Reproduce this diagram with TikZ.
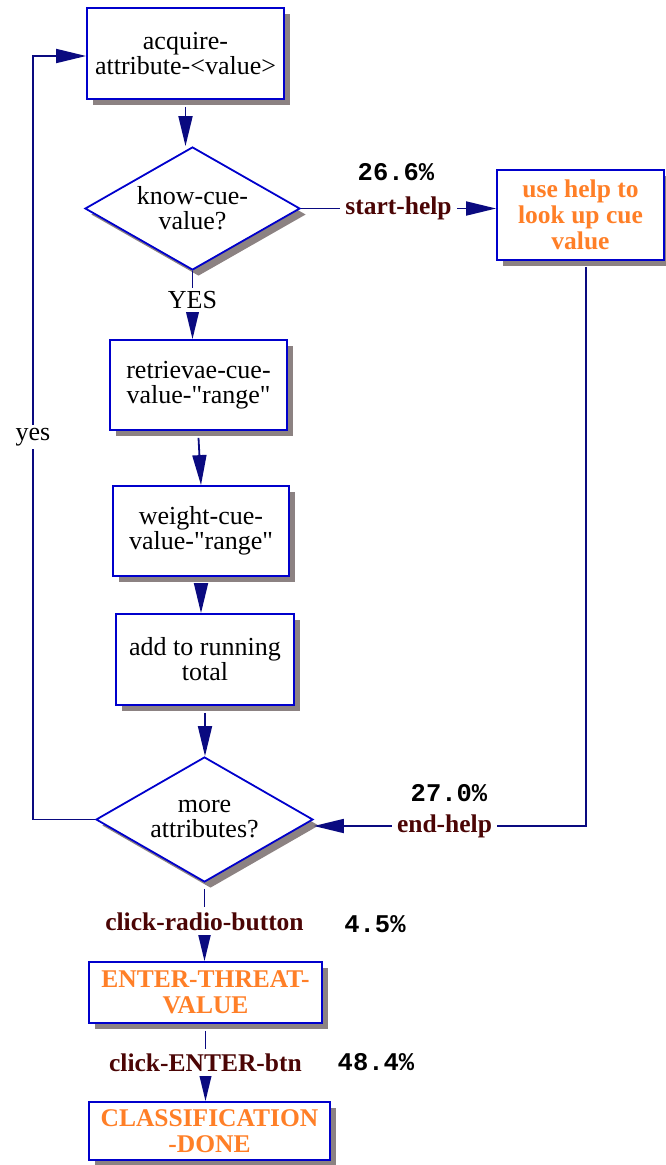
\documentclass[tikz,border=0pt]{standalone}
\usepackage{fontspec}
\setmainfont{Liberation Serif}
\newfontfamily\pctfont{Liberation Mono}
\usetikzlibrary{shapes.geometric,shadows,arrows.meta}
\definecolor{navyline}{RGB}{10,10,128}
\definecolor{boxblue}{RGB}{0,0,204}
\definecolor{shgray}{RGB}{140,130,130}
\definecolor{lblbrown}{RGB}{75,5,5}
\definecolor{hlorange}{RGB}{255,127,39}
\tikzset{
  shd/.style={drop shadow={shadow xshift=6pt,shadow yshift=-6pt,fill=shgray,opacity=1}},
  procbox/.style={draw=boxblue,line width=1.8pt,fill=white,shd,align=center,inner sep=0pt,
     font=\fontsize{26}{25}\selectfont},
  decbox/.style={shape=diamond,draw=boxblue,line width=1.8pt,fill=white,shd,align=center,inner sep=0pt,
     font=\fontsize{26}{25}\selectfont},
  hlbox/.style={procbox,text=hlorange,font=\fontsize{25.5}{26}\selectfont\bfseries},
  conn/.style={draw=navyline,line width=1.8pt},
  arr/.style={conn,-{Triangle[length=30pt,width=14pt]}},
  evlbl/.style={text=lblbrown,font=\fontsize{25.5}{26}\selectfont\bfseries,fill=white,inner sep=5pt},
  pct/.style={font=\fontsize{25.5}{26}\pctfont\bfseries,text=black},
  plain/.style={font=\fontsize{26}{25}\selectfont,fill=white,inner sep=3pt}
}
\begin{document}
\begin{tikzpicture}[x=1pt,y=-1pt]
\useasboundingbox (0,0) rectangle (665,1165);
% nodes
\node[procbox,minimum width=197pt,minimum height=91pt] (b1) at (185.5,53.5) {acquire-\\attribute-<value>};
\node[decbox,minimum width=215pt,minimum height=123pt,aspect=1.75] (d1) at (192.5,208.5) {know-cue-\\value?};
\node[hlbox,minimum width=167pt,minimum height=90pt] (help) at (580.5,215) {use help to\\look up cue\\value};
\node[procbox,minimum width=177pt,minimum height=90pt] (b2) at (198.5,385) {retrievae-cue-\\value-\textquotedbl range\textquotedbl};
\node[procbox,minimum width=176pt,minimum height=90pt] (b3) at (201,531) {weight-cue-\\value-\textquotedbl range\textquotedbl};
\node[procbox,minimum width=178pt,minimum height=91pt] (b4) at (205,659.5) {add to running\\total};
\node[decbox,minimum width=217pt,minimum height=125pt,aspect=1.75] (d2) at (204.5,819.5) {more\\attributes?};
\node[hlbox,minimum width=233pt,minimum height=61pt] (enter) at (205.5,992.5) {ENTER-THREAT-\\VALUE};
\node[hlbox,minimum width=241pt,minimum height=58pt] (cls) at (209.5,1131) {CLASSIFICATION\\-DONE};
% connectors
\draw[arr] ([yshift=-7pt]b1.south) -- (b1.south |- d1.north);
\draw[arr] (d1.east) -- node[evlbl]{start-help} (d1.east -| help.west);
\node[pct] (p1) at (396,172) {26.6\%};
\draw[arr] (d1.south) -- node[plain,pos=0.43]{YES} (d1.south |- b2.north);
\draw[arr] ([yshift=-7pt]b2.south) -- (b3.north);
\draw[arr] ([yshift=-7pt]b3.south) -- (b3.south |- b4.north);
\draw[arr] ([yshift=-7pt]b4.south) -- (b4.south |- d2.north);
\coordinate (hc) at (586,826);
\draw[arr] ([yshift=-6pt]help.south -| hc) -- (hc) -- node[evlbl,pos=0.52]{end-help} (hc -| d2.east);
\node[pct] (p2) at (449,793) {27.0\%};
\coordinate (lc) at (33,56);
\draw[arr] (d2.west) -| (lc) -- (lc -| b1.west);
\node[plain] (yes) at (33,437) {yes};
\draw[arr] ([yshift=-6pt]d2.south) -- node[evlbl,pos=0.45]{click-radio-button} (d2.south |- enter.north);
\node[pct] (p3) at (375,924) {4.5\%};
\draw[arr] ([yshift=-7pt]enter.south) -- node[evlbl,pos=0.45]{click-ENTER-btn} (enter.south |- cls.north);
\node[pct] (p4) at (376,1062) {48.4\%};
\end{tikzpicture}
\end{document}
